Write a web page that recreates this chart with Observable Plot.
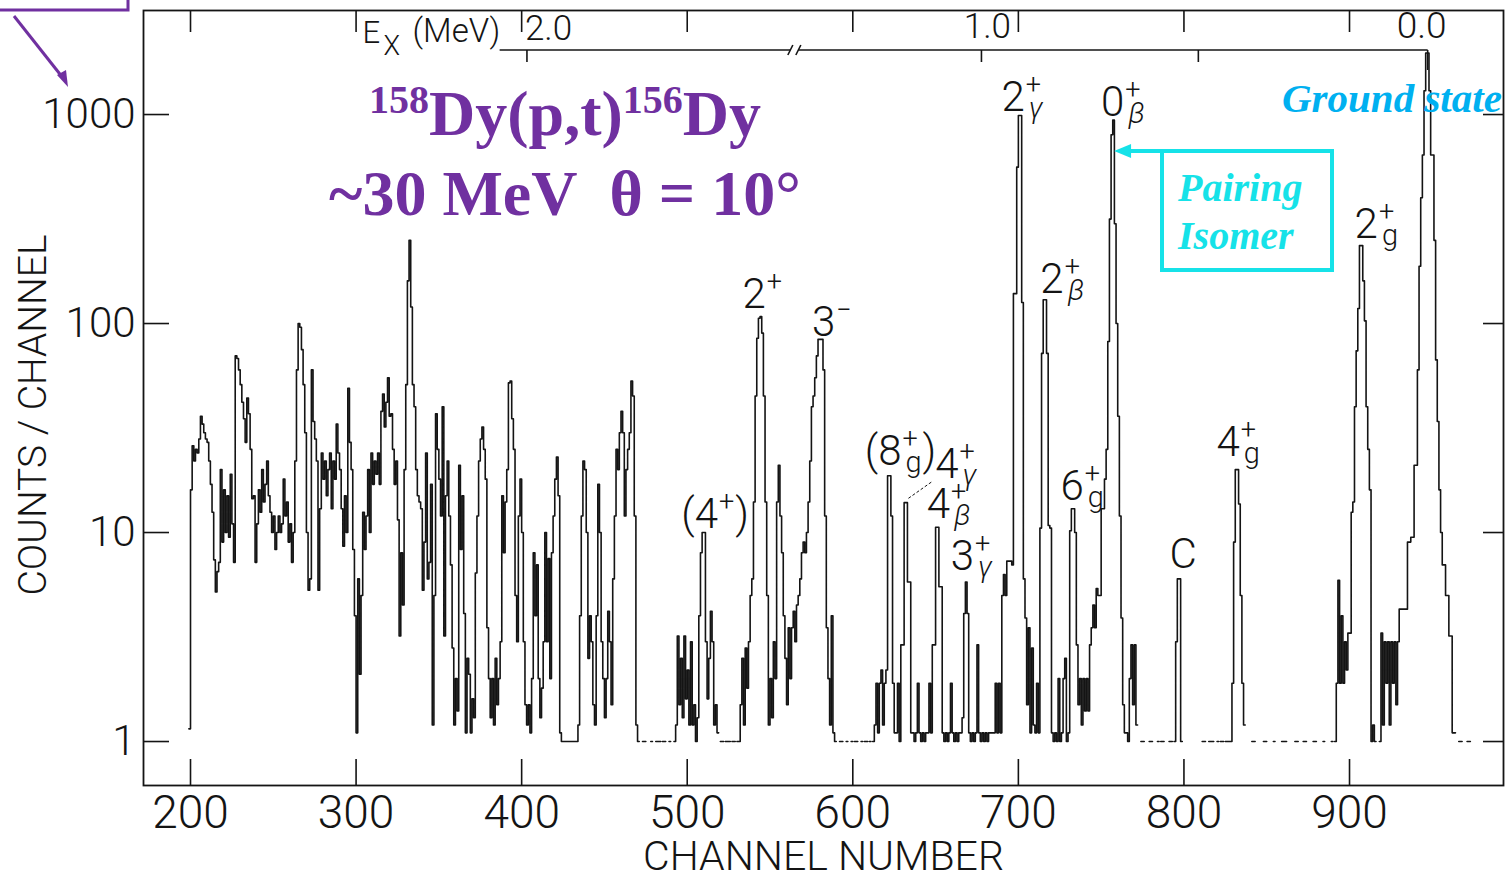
<!DOCTYPE html>
<html>
<head>
<meta charset="utf-8">
<script src="https://cdn.jsdelivr.net/npm/d3@7"></script>
<script src="https://cdn.jsdelivr.net/npm/@observablehq/plot@0.6"></script>
<style>
  html, body { margin: 0; padding: 0; background: #fff; overflow: hidden; }
  #chart { width: 1506px; height: 878px; position: relative; }
  #chart svg { display: block; overflow: visible; }
</style>
</head>
<body>
<div id="chart"></div>
<script>
// ---- Triton spectrum: counts per channel, one value per channel (0 = empty channel) ----
const startChannel = 199;
const counts199to299 = [1.15,
  16, 26, 22, 25, 24, 28, 36, 33, 30, 28, 27, 22, 17, 12.5, 7.4, 5.2, 6.5, 7.2, 20, 9,
  16, 10, 15, 9.5, 19, 11, 7.2, 70, 68, 60, 51, 42, 35, 27, 44, 37, 25, 14.5, 15, 7.2,
  11, 16, 12.5, 20, 14, 17, 22, 15, 12.5, 10, 12, 8.3, 10, 12, 10, 11, 18, 12, 14, 9,
  11, 7.2, 10, 22, 60, 100, 96, 75, 51, 30, 10, 5.3, 6, 60, 34, 28, 22, 5.3, 13, 24,
  18, 22, 15, 20, 24, 13, 22, 18, 33, 24, 20, 13, 8.6, 15, 10, 49, 27, 20, 8.3, 4];
const counts300to399 = [
  1.1, 6, 2.1, 5, 12.5, 8.3, 12, 20, 10, 24, 17, 22, 19, 24, 17, 38, 46, 32, 42, 55,
  36, 37, 25, 17, 22, 11.5, 3.2, 8, 4.5, 20, 51, 160, 250, 120, 51, 40, 20, 15, 14, 13,
  5.3, 9, 24, 6, 7.2, 17, 1.2, 5, 37, 25, 18, 12, 40, 3.2, 15, 22, 12, 7, 2.8, 1.2,
  2, 1.4, 21, 8.3, 15, 4.1, 1.1, 2.5, 2.1, 1.1, 1.6, 1.3, 6.4, 12, 22, 28, 32, 25, 18, 3.5,
  2, 1.3, 2, 1.2, 2.5, 1.5, 2, 3, 15, 8, 14, 20, 52, 53, 35, 25, 5, 3, 12, 18];
const counts400to499 = [
  10, 3, 1.5, 1.2, 1.5, 1.1, 2, 8, 4, 7, 2, 1.3, 1.8, 3, 10, 3, 7.5, 2, 8, 12,
  18, 23, 15, 1.1, 1, 1, 1, 1, 1, 1, 1, 1, 1, 1, 1.2, 4, 12, 22, 20, 10,
  2.5, 4, 3, 1.5, 1.2, 4, 17, 10, 3, 2, 1.3, 2, 4.2, 3, 1.5, 6, 12, 25, 20, 30,
  38, 30, 12, 20, 25, 30, 53, 45, 12, 1.2, 1, 0, 0, 1, 1, 0, 0, 0, 1, 0,
  0, 1, 1, 1, 0, 1, 1, 0, 0, 1, 0, 0, 1, 1.2, 3.2, 1.5, 2.5, 1.3, 3.2, 1.6];
const counts500to599 = [
  2.2, 1.2, 3, 1.2, 1.5, 1, 1.3, 4, 8, 10, 10, 3, 1.6, 2.5, 4.2, 3, 1.2, 1.5, 1.1, 0,
  1, 1, 0, 1, 1, 1, 0, 1, 1, 0, 1, 1, 1.5, 2.5, 1.2, 2.8, 1.8, 3, 5, 6,
  14, 45, 85, 106, 108, 90, 45, 14, 5, 1.2, 2, 1.3, 3, 2, 14, 21, 12, 8, 4, 2.5,
  1.5, 3.5, 2, 3.5, 4.2, 3, 4.5, 5, 6, 8, 9, 8, 10, 14, 22, 40, 45, 55, 70, 84,
  84, 84, 60, 12, 3.5, 2, 1.2, 4, 1.1, 1, 0, 0, 1, 1, 0, 0, 1, 0, 0, 1];
const counts600to699 = [
  0, 1, 1, 0, 0, 1, 0, 1, 1, 0, 1, 0, 1, 1.2, 1.9, 1.1, 1.9, 2.2, 1.2, 1.9,
  2.2, 18.7, 18.7, 12, 1.9, 1.1, 1.1, 1.9, 1, 2.9, 2.9, 13.9, 13.9, 5.8, 5.8, 1.1, 1.1, 1, 1.1, 1.9,
  1.1, 1, 1.1, 1, 1.1, 1.1, 1.9, 1.1, 2.9, 2.9, 10.6, 10.6, 5.5, 5.5, 1.1, 1, 1.1, 1, 1.1, 1.9,
  1.1, 1, 1.1, 1, 1.1, 1.1, 1.3, 4.1, 5.8, 4.1, 1.1, 1, 1.1, 1, 1.1, 2.9, 1.1, 1, 1.1, 1,
  1.1, 1, 1.1, 1.1, 1.1, 1.1, 1.9, 1.1, 1.9, 1.1, 5, 6.3, 5, 7.3, 7.3, 7.3, 7, 139, 139, 560];
const counts700to799 = [
  990, 990, 126, 6, 3.9, 1.5, 3.5, 1.1, 2.8, 1.2, 1.1, 1.9, 1.1, 10.5, 72, 130, 130, 72, 10.8, 10.5,
  1.1, 1, 1.1, 1, 2, 1, 1.1, 2, 2.5, 1, 1.1, 10.2, 13, 13, 10, 2.9, 1.5, 2, 1.2, 2,
  1.4, 2, 1.4, 2.9, 3.5, 4.5, 3.5, 5.4, 5, 5, 13, 13, 18, 25, 82, 316, 800, 940, 300, 100,
  36, 12, 3.9, 1.5, 1.1, 1.1, 1, 2, 2.9, 1.5, 2.9, 1.2, 0, 0, 1, 1, 0, 0, 0, 1,
  1, 0, 0, 0, 1, 0, 1, 1, 0, 0, 0, 1, 1, 0, 1, 3, 6, 6, 1, 0];
const counts800to899 = [
  0, 0, 0, 0, 0, 0, 0, 0, 0, 0, 0, 1, 1, 0, 0, 1, 1, 1, 0, 0,
  1, 0, 1, 1, 0, 1, 1, 1, 1, 1.9, 9, 20, 20, 13.7, 5, 1.9, 1.2, 0, 0, 0,
  0, 1, 1, 0, 0, 0, 0, 0, 1, 1, 0, 0, 0, 0, 1, 0, 0, 0, 0, 1,
  1, 1, 0, 0, 0, 0, 0, 1, 1, 0, 0, 0, 1, 1, 0, 0, 0, 0, 1, 1,
  0, 0, 0, 0, 1, 0, 0, 0, 0, 1, 0, 1, 1.9, 5.9, 1.9, 4, 1.9, 3, 2.2, 3.3];
const counts900to973 = [
  3.3, 12.5, 14, 40, 74, 118, 236, 236, 160, 103, 40, 25, 16, 1, 1.2, 1, 0, 0, 1, 3.3,
  1.2, 3, 1.9, 3, 1.2, 3, 1.9, 3, 1.5, 3, 4.3, 4.3, 4.3, 4.3, 4.3, 9, 9, 9.5, 9.5, 21,
  21, 60, 188, 400, 640, 1300, 1970, 1970, 1300, 640, 640, 250, 67, 34, 16, 10, 7, 7, 5, 5,
  3.2, 3.2, 1.1, 1.1, 0, 0, 1, 1, 0, 0, 0, 1, 1, 0];

// ---- axes ----
const channelTicks = [200, 300, 400, 500, 600, 700, 800, 900];
const countTicks = [1, 10, 100, 1000];
const xTitle = "CHANNEL NUMBER";
const yTitle = "COUNTS / CHANNEL";

// ---- excitation-energy scale drawn along the top (MeV, placed at channel numbers) ----
const exLabels = ["2.0", "1.0", "0.0"];
const exChannels = [403.5, 678, 947.5];
const exMinorChannels = [809];
const exAxisFrom = 387;
const exBreakChannel = 565;

// ---- state labels on the peaks ----
const peakChannels = [510, 544.5, 580.5, 622, 632, 651, 668.5, 701, 716, 733, 757.5, 797, 832, 907];
const peakCounts   = [10, 108, 84, 18.7, 13.9, 10.6, 5.8, 990, 130, 13, 940, 6, 20, 236];
const peakBase = ["(4", "2", "3", "(8", "4", "4", "3", "2", "2", "6", "0", "C", "4", "2"];
const peakSup  = ["+", "+", "\u2212", "+", "+", "+", "+", "+", "+", "+", "+", "", "+", "+"];
const peakSub  = ["", "", "", "g", "\u03b3", "\u03b2", "\u03b3", "\u03b3", "\u03b2", "g", "\u03b2", "", "g", "g"];
const peakTail = [")", "", "", ")", "", "", "", "", "", "", "", "", "", ""];

// ---- build the histogram outline ----
const counts = [].concat(counts199to299, counts300to399, counts400to499, counts500to599,
  counts600to699, counts700to799, counts800to899, counts900to973);
const outline = [];
counts.forEach((c, i) => {
  const ch = startChannel + i;
  const v = c > 0 ? c : NaN;
  outline.push({channel: ch, count: v}, {channel: ch + 1, count: v});
});

const ink = "#141414";
const W = 1506, H = 878;
const mL = 143, mR = 3, mT = 10, mB = 93;
const frameW = W - mL - mR, frameH = H - mT - mB;
const sans = "Roboto, 'Liberation Sans', Arial, sans-serif";

const chart = Plot.plot({
  width: W, height: H,
  marginLeft: mL, marginRight: mR, marginTop: mT, marginBottom: mB,
  style: {fontFamily: sans, fontWeight: 300, color: ink, background: "#fff", overflow: "visible"},
  x: {domain: [171.61, 993.0]},
  y: {type: "log", domain: [0.616, 3146]},
  marks: [
    // inward ticks on all four sides
    Plot.ruleX(channelTicks, {insetTop: frameH - 26, stroke: ink, strokeWidth: 1.6}),
    Plot.ruleX(channelTicks, {insetBottom: frameH - 22, stroke: ink, strokeWidth: 1.6}),
    Plot.ruleY(countTicks, {insetRight: frameW - 26, stroke: ink, strokeWidth: 1.6}),
    Plot.ruleY(countTicks, {insetLeft: frameW - 20, stroke: ink, strokeWidth: 1.6}),
    Plot.axisX(channelTicks, {anchor: "bottom", tickSize: 0, tickPadding: 10, fontSize: 46,
      label: null, tickFormat: d => `${d}`}),
    Plot.axisY(countTicks, {anchor: "left", tickSize: 0, tickPadding: 8, fontSize: 42,
      label: null, tickFormat: d => `${d}`}),
    Plot.line(outline, {x: "channel", y: "count", stroke: ink, strokeWidth: 1.6}),
    Plot.frame({stroke: ink, strokeWidth: 1.8}),
    Plot.text([xTitle], {text: d => d, frameAnchor: "bottom", dy: 71, fontSize: 41,
      textAnchor: "middle", lineAnchor: "middle"}),
    Plot.text([yTitle], {text: d => d, frameAnchor: "left", dx: -110, dy: 17, rotate: -90, fontSize: 39,
      textAnchor: "middle", lineAnchor: "middle"})
  ]
});
document.getElementById("chart").appendChild(chart);

// ---- annotations drawn on the same SVG, positioned with the plot's scales ----
const svg = d3.select(chart);
const xs = chart.scale("x"), ys = chart.scale("y");
const X = v => xs.apply(v), Y = v => ys.apply(v);
const notes = svg.append("g").attr("text-anchor", "start");

// excitation-energy scale
const exY = 50;
const ex = notes.append("g").attr("stroke", ink).attr("stroke-width", 1.6).attr("fill", "none");
const bx = X(exBreakChannel);
ex.append("line").attr("x1", X(exAxisFrom)).attr("x2", bx - 4).attr("y1", exY).attr("y2", exY);
ex.append("line").attr("x1", bx + 4).attr("x2", X(exChannels[exChannels.length - 1])).attr("y1", exY).attr("y2", exY);
for (const s of [-4, 4]) {
  ex.append("line").attr("x1", bx + s - 2.5).attr("y1", exY + 5).attr("x2", bx + s + 2.5).attr("y2", exY - 5);
}
exChannels.concat(exMinorChannels).forEach(c => {
  const last = c === exChannels[exChannels.length - 1];
  ex.append("line").attr("x1", X(c)).attr("x2", X(c)).attr("y1", exY).attr("y2", exY + (last ? 20 : 12));
});
const exText = notes.append("g").attr("fill", ink).attr("font-family", sans).attr("font-weight", 300);
exText.append("text").attr("x", X(exChannels[0]) - 2).attr("y", 40).attr("font-size", 35).text(exLabels[0]);
exText.append("text").attr("x", X(exChannels[1]) + 6).attr("y", 38).attr("font-size", 35)
  .attr("text-anchor", "middle").text(exLabels[1]);
exText.append("text").attr("x", X(exChannels[2]) - 6).attr("y", 38).attr("font-size", 37)
  .attr("text-anchor", "middle").text(exLabels[2]);
const ex0 = X(300) + 7;
const exName = exText.append("text").attr("x", ex0).attr("y", 43);
exName.append("tspan").attr("font-size", 31).text("E");
exName.append("tspan").attr("font-size", 27).attr("x", ex0 + 21).attr("y", 55).text("X");
exName.append("tspan").attr("font-size", 33).attr("x", ex0 + 50).attr("y", 42).text("(MeV)");

// state labels: one text element per label, with raised and lowered parts
const lab = notes.append("g").attr("fill", ink).attr("font-family", sans).attr("font-weight", 300);
const labelOffsets = [[-22, -4], [-18, -8], [-8, -3], [-24, -10], [30, -24], [-10, -9], [-15, -11],
  [-18, -4], [-4, -6], [-12, -8], [-12, -4], [-9, -10], [-20, -13], [-6, -7]];
peakChannels.forEach((c, i) => {
  const x0 = X(c) + labelOffsets[i][0], y0 = Y(peakCounts[i]) + labelOffsets[i][1];
  const t = lab.append("text").attr("x", x0).attr("y", y0);
  const base = t.append("tspan").attr("x", x0).attr("y", y0).attr("font-size", 42).text(peakBase[i]);
  const bw = base.node().getComputedTextLength();
  let w = 0;
  if (peakSup[i]) {
    const s = t.append("tspan").attr("x", x0 + bw + 1).attr("y", y0 - 17).attr("font-size", 27).text(peakSup[i]);
    w = Math.max(w, s.node().getComputedTextLength() + 1);
  }
  if (peakSub[i]) {
    const s = t.append("tspan").attr("x", x0 + bw + 4).attr("y", y0 + 7).attr("font-size", 29)
      .attr("font-style", peakSub[i] === "g" ? "normal" : "italic").text(peakSub[i]);
    w = Math.max(w, s.node().getComputedTextLength() + 4);
  }
  if (peakTail[i]) {
    t.append("tspan").attr("x", x0 + bw + w + 1).attr("y", y0).attr("font-size", 42).text(peakTail[i]);
  }
});
// leader from the 4+γ label down to its peak
lab.append("line")
  .attr("x1", X(peakChannels[4]) + 26).attr("y1", Y(peakCounts[4]) - 20)
  .attr("x2", X(peakChannels[4]) + 2).attr("y2", Y(peakCounts[4]) - 3)
  .attr("stroke", ink).attr("stroke-width", 1).attr("stroke-dasharray", "3,2");

// reaction title
const purple = "#7030A0";
const serif = "'Liberation Serif', 'Times New Roman', serif";
const title = notes.append("g").attr("fill", purple).attr("font-family", serif)
  .attr("font-weight", "bold").attr("text-anchor", "middle");
const t1 = title.append("text").attr("x", 565).attr("y", 135).attr("font-size", 64);
t1.append("tspan").attr("font-size", 40).attr("dy", -22).text("158");
t1.append("tspan").attr("dy", 22).text("Dy(p,t)");
t1.append("tspan").attr("font-size", 40).attr("dy", -22).text("156");
t1.append("tspan").attr("dy", 22).text("Dy");
title.append("text").attr("x", 565).attr("y", 215).attr("font-size", 64)
  .text("~30 MeV\u00a0\u00a0\u03b8 = 10\u00b0");

// corner callout
const corner = notes.append("g").attr("stroke", purple).attr("stroke-width", 3).attr("fill", "none");
corner.append("path").attr("d", "M0,10H128V-2");
corner.append("line").attr("x1", 14).attr("y1", 16).attr("x2", 63).attr("y2", 78);
notes.append("path").attr("d", "M68,87 L57,75 L66,70 Z").attr("fill", purple);

// ground state
notes.append("text").attr("x", 1282).attr("y", 112).attr("font-family", serif)
  .attr("font-weight", "bold").attr("font-style", "italic").attr("font-size", 41)
  .attr("fill", "#00B0F0").text("Ground state");

// pairing isomer callout
const cyan = "#16E2E8";
const pi = notes.append("g");
pi.append("rect").attr("x", 1162).attr("y", 151).attr("width", 170).attr("height", 119)
  .attr("fill", "none").attr("stroke", cyan).attr("stroke-width", 4);
const tipX = X(peakChannels[10]) + 1, tipY = 151;
pi.append("line").attr("x1", 1162).attr("y1", tipY).attr("x2", tipX + 14).attr("y2", tipY)
  .attr("stroke", cyan).attr("stroke-width", 4);
pi.append("path").attr("d", `M${tipX},${tipY} L${tipX + 17},${tipY - 7} L${tipX + 17},${tipY + 7} Z`).attr("fill", cyan);
const piText = pi.append("g").attr("fill", cyan).attr("font-family", serif)
  .attr("font-weight", "bold").attr("font-style", "italic").attr("font-size", 40);
piText.append("text").attr("x", 1178).attr("y", 201).text("Pairing");
piText.append("text").attr("x", 1178).attr("y", 249).text("Isomer");
</script>
</body>
</html>
